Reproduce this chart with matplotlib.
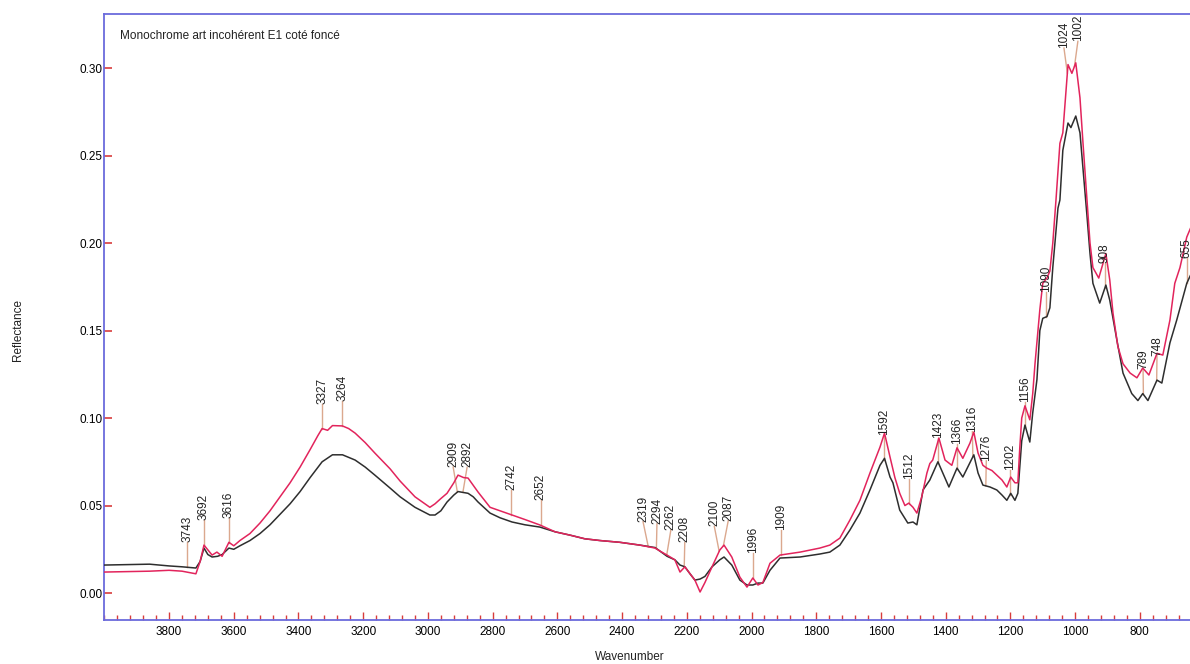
import matplotlib
matplotlib.use("Agg")
import matplotlib.pyplot as plt
import numpy as np
from matplotlib.ticker import MultipleLocator

plt.rcParams["font.family"] = ["Liberation Sans", "DejaVu Sans"]

TITLE = "Monochrome art incohérent E1 coté foncé"

# spectrum 1 (red trace): wavenumber, reflectance
red_wn = [4000, 3860, 3800, 3760, 3717, 3704, 3692, 3667, 3652, 3636, 3615, 3600,
          3581, 3550, 3519, 3488, 3457, 3426, 3395, 3364, 3340, 3327, 3310, 3295,
          3264, 3245, 3225, 3194, 3164, 3117, 3086, 3040, 2994, 2978, 2960, 2941,
          2920, 2907, 2890, 2876, 2845, 2808, 2777, 2740, 2700, 2654, 2607, 2561,
          2515, 2468, 2407, 2345, 2298, 2283, 2261, 2237, 2221, 2206, 2190, 2175,
          2159, 2144, 2122, 2098, 2085, 2061, 2036, 2014, 1996, 1980, 1965, 1943,
          1912, 1850, 1789, 1758, 1727, 1696, 1665, 1634, 1603, 1589, 1572, 1557,
          1542, 1526, 1514, 1501, 1489, 1474, 1458, 1449, 1440, 1421, 1402, 1381,
          1365, 1347, 1325, 1313, 1300, 1285, 1273, 1257, 1242, 1226, 1211, 1199,
          1186, 1177, 1171, 1165, 1155, 1140, 1131, 1124, 1109, 1100, 1087, 1078,
          1069, 1059, 1047, 1038, 1029, 1022, 1010, 998, 985, 976, 964, 954, 945,
          927, 905, 893, 883, 868, 852, 830, 809, 791, 772, 747, 729, 707, 692,
          676, 655, 640]
red_r = [0.0120, 0.0125, 0.0130, 0.0125, 0.0110, 0.0180, 0.0274, 0.0217, 0.0234,
         0.0210, 0.0290, 0.0270, 0.0300, 0.0340, 0.0400, 0.0470, 0.0550, 0.0630,
         0.0720, 0.0820, 0.0900, 0.0940, 0.0930, 0.0957, 0.0955, 0.0940, 0.0914,
         0.0860, 0.0800, 0.0710, 0.0640, 0.0550, 0.0490, 0.0510, 0.0540, 0.0570,
         0.0630, 0.0674, 0.0660, 0.0657, 0.0577, 0.0490, 0.0470, 0.0446, 0.0420,
         0.0389, 0.0350, 0.0331, 0.0310, 0.0300, 0.0290, 0.0274, 0.0257, 0.0240,
         0.0217, 0.0190, 0.0120, 0.0150, 0.0110, 0.0074, 0.0006, 0.0060, 0.0150,
         0.0246, 0.0274, 0.0206, 0.0091, 0.0034, 0.0086, 0.0046, 0.0060, 0.0170,
         0.0217, 0.0234, 0.0257, 0.0274, 0.0314, 0.0417, 0.0530, 0.0686, 0.0834,
         0.0914, 0.0777, 0.0660, 0.0570, 0.0500, 0.0514, 0.0490, 0.0457, 0.0550,
         0.0686, 0.0740, 0.0760, 0.0886, 0.0760, 0.0730, 0.0830, 0.0770, 0.0857,
         0.0920, 0.0800, 0.0730, 0.0714, 0.0700, 0.0674, 0.0646, 0.0606, 0.0663,
         0.0630, 0.0630, 0.0830, 0.1000, 0.1070, 0.0990, 0.1140, 0.1310, 0.1620,
         0.1770, 0.1800, 0.1840, 0.2000, 0.2250, 0.2570, 0.2630, 0.2850, 0.3020,
         0.2970, 0.3030, 0.2830, 0.2580, 0.2260, 0.2000, 0.1860, 0.1800, 0.1940,
         0.1790, 0.1600, 0.1410, 0.1310, 0.1257, 0.1230, 0.1286, 0.1246, 0.1370,
         0.1360, 0.1560, 0.1770, 0.1860, 0.2034, 0.2100]

# spectrum 2 (black trace)
black_wn = [4000, 3860, 3800, 3760, 3717, 3704, 3692, 3680, 3667, 3650, 3636, 3615,
            3600, 3581, 3550, 3519, 3488, 3457, 3426, 3395, 3364, 3327, 3295, 3264,
            3225, 3194, 3164, 3117, 3086, 3040, 2994, 2978, 2960, 2941, 2920, 2907,
            2876, 2860, 2845, 2808, 2777, 2740, 2700, 2654, 2607, 2561, 2515, 2468,
            2407, 2345, 2298, 2283, 2261, 2237, 2221, 2206, 2190, 2175, 2159, 2144,
            2122, 2098, 2085, 2061, 2036, 2014, 1996, 1980, 1965, 1943, 1912, 1850,
            1789, 1758, 1727, 1696, 1665, 1634, 1603, 1589, 1572, 1563, 1542, 1517,
            1501, 1489, 1470, 1449, 1424, 1409, 1390, 1365, 1347, 1313, 1300, 1285,
            1263, 1242, 1226, 1211, 1199, 1186, 1177, 1171, 1165, 1155, 1140, 1131,
            1118, 1109, 1100, 1087, 1078, 1069, 1053, 1047, 1038, 1022, 1013, 998,
            985, 976, 964, 954, 945, 924, 905, 893, 871, 852, 825, 806, 791, 775,
            747, 732, 707, 686, 655, 640]
black_r = [0.0160, 0.0165, 0.0155, 0.0150, 0.0143, 0.0180, 0.0257, 0.0220, 0.0206,
           0.0210, 0.0220, 0.0257, 0.0250, 0.0270, 0.0300, 0.0340, 0.0390, 0.0450,
           0.0510, 0.0580, 0.0660, 0.0750, 0.0790, 0.0790, 0.0760, 0.0720, 0.0674,
           0.0600, 0.0550, 0.0490, 0.0446, 0.0446, 0.0470, 0.0520, 0.0560, 0.0580,
           0.0570, 0.0550, 0.0520, 0.0457, 0.0430, 0.0406, 0.0390, 0.0377, 0.0350,
           0.0331, 0.0310, 0.0300, 0.0290, 0.0274, 0.0260, 0.0240, 0.0210, 0.0190,
           0.0160, 0.0150, 0.0110, 0.0074, 0.0080, 0.0095, 0.0150, 0.0190, 0.0206,
           0.0160, 0.0074, 0.0046, 0.0046, 0.0057, 0.0057, 0.0130, 0.0200, 0.0206,
           0.0223, 0.0234, 0.0274, 0.0360, 0.0457, 0.0589, 0.0730, 0.0770, 0.0663,
           0.0630, 0.0474, 0.0400, 0.0406, 0.0390, 0.0589, 0.0646, 0.0750, 0.0686,
           0.0606, 0.0714, 0.0663, 0.0790, 0.0686, 0.0617, 0.0606, 0.0589, 0.0560,
           0.0530, 0.0570, 0.0530, 0.0570, 0.0720, 0.0870, 0.0960, 0.0863, 0.1030,
           0.1220, 0.1500, 0.1570, 0.1580, 0.1630, 0.1860, 0.2200, 0.2246, 0.2530,
           0.2686, 0.2660, 0.2726, 0.2630, 0.2434, 0.2170, 0.1940, 0.1770, 0.1657,
           0.1760, 0.1674, 0.1446, 0.1257, 0.1140, 0.1100, 0.1140, 0.1100, 0.1217,
           0.1200, 0.1430, 0.1560, 0.1770, 0.1830]

# picked peaks, grouped by the trace they were picked on
red_peaks = [3692, 3616, 3327, 3264, 2742, 2652, 2319, 2294, 2262, 2208, 2100,
             2087, 1996, 1909, 1512, 1024, 1002]
black_peaks = [3743, 2909, 2892, 1592, 1423, 1366, 1316, 1276, 1202, 1156, 1090,
               908, 789, 748, 655]

RED = "#e2245c"
BLACK = "#2e2e2e"
LEADER = "#dba88e"
SPINE = "#6b6bdc"
TICK = "#d83c3c"


def spread_labels(pos, gap):
    """Push label positions apart so neighbours are at least `gap` apart."""
    order = np.argsort(pos)
    clusters = [[pos[i]] for i in order]
    merged = True
    while merged:
        merged = False
        out = []
        for c in clusters:
            if out:
                prev = out[-1]
                prev_end = np.mean(prev) + (len(prev) - 1) * gap / 2
                start = np.mean(c) - (len(c) - 1) * gap / 2
                if start - prev_end < gap:
                    out[-1] = prev + c
                    merged = True
                    continue
            out.append(c)
        clusters = out
    placed = []
    for c in clusters:
        mid = np.mean(c)
        placed += [mid + (k - (len(c) - 1) / 2) * gap for k in range(len(c))]
    result = np.empty(len(pos))
    result[order] = placed
    return result


fig = plt.figure(figsize=(11.9, 6.64), dpi=100)
ax = fig.add_axes([104 / 1190, 44 / 664, 1 - 104 / 1190, 606 / 664])

ax.plot(black_wn, black_r, color=BLACK, lw=1.1, zorder=3)
ax.plot(red_wn, red_r, color=RED, lw=1.1, zorder=4)

ax.set_xlim(4001, 645)
ax.set_ylim(-0.0154, 0.3309)

# peak labels with leader lines
peaks = [(p, red_wn, red_r) for p in red_peaks] + [(p, black_wn, black_r) for p in black_peaks]
peak_wn = np.array([p[0] for p in peaks], dtype=float)
peak_val = np.array([np.interp(p, wn[::-1], r[::-1]) for p, wn, r in peaks])
text_wn = -spread_labels(list(-peak_wn), 43.0)
lift = 0.0143
for w, v, tw in zip(peak_wn, peak_val, text_wn):
    ax.plot([w, tw], [v, v + lift], color=LEADER, lw=1.0, zorder=2)
    ax.text(tw, v + lift, f"{int(w)}", rotation=90, ha="center", va="bottom",
            fontsize=8.5, color="#222222", zorder=5)

ax.text(16 / 1086, 0.9637, TITLE, transform=ax.transAxes, fontsize=8.5,
        va="center", ha="left", color="#222222")

# axes styling
for side in ("left", "top", "bottom"):
    ax.spines[side].set_color(SPINE)
    ax.spines[side].set_linewidth(1.3)
ax.spines["right"].set_visible(False)

ax.xaxis.set_major_locator(MultipleLocator(200))
ax.xaxis.set_minor_locator(MultipleLocator(40))
ax.yaxis.set_major_locator(MultipleLocator(0.05))
ax.set_xticks([t for t in range(3800, 700, -200)])
ax.yaxis.set_major_formatter(matplotlib.ticker.FormatStrFormatter("%.2f"))
ax.tick_params(axis="x", which="major", direction="in", length=6, width=1.0,
               color=TICK, labelsize=8.5, pad=4, top=False)
ax.tick_params(axis="x", which="minor", direction="in", length=3.5, width=1.0,
               color=TICK, top=False)
ax.tick_params(axis="y", which="major", direction="in", length=6, width=1.2,
               color=TICK, labelsize=8.5, pad=1, right=False)

fig.text(18 / 1190, 1 - 330 / 664, "Reflectance", rotation=90, ha="center",
         va="center", fontsize=8.5, color="#222222")
fig.text(630 / 1190, 1 - 657 / 664, "Wavenumber", ha="center", va="center",
         fontsize=8.5, color="#222222")

fig.savefig("out.png", dpi=100)
